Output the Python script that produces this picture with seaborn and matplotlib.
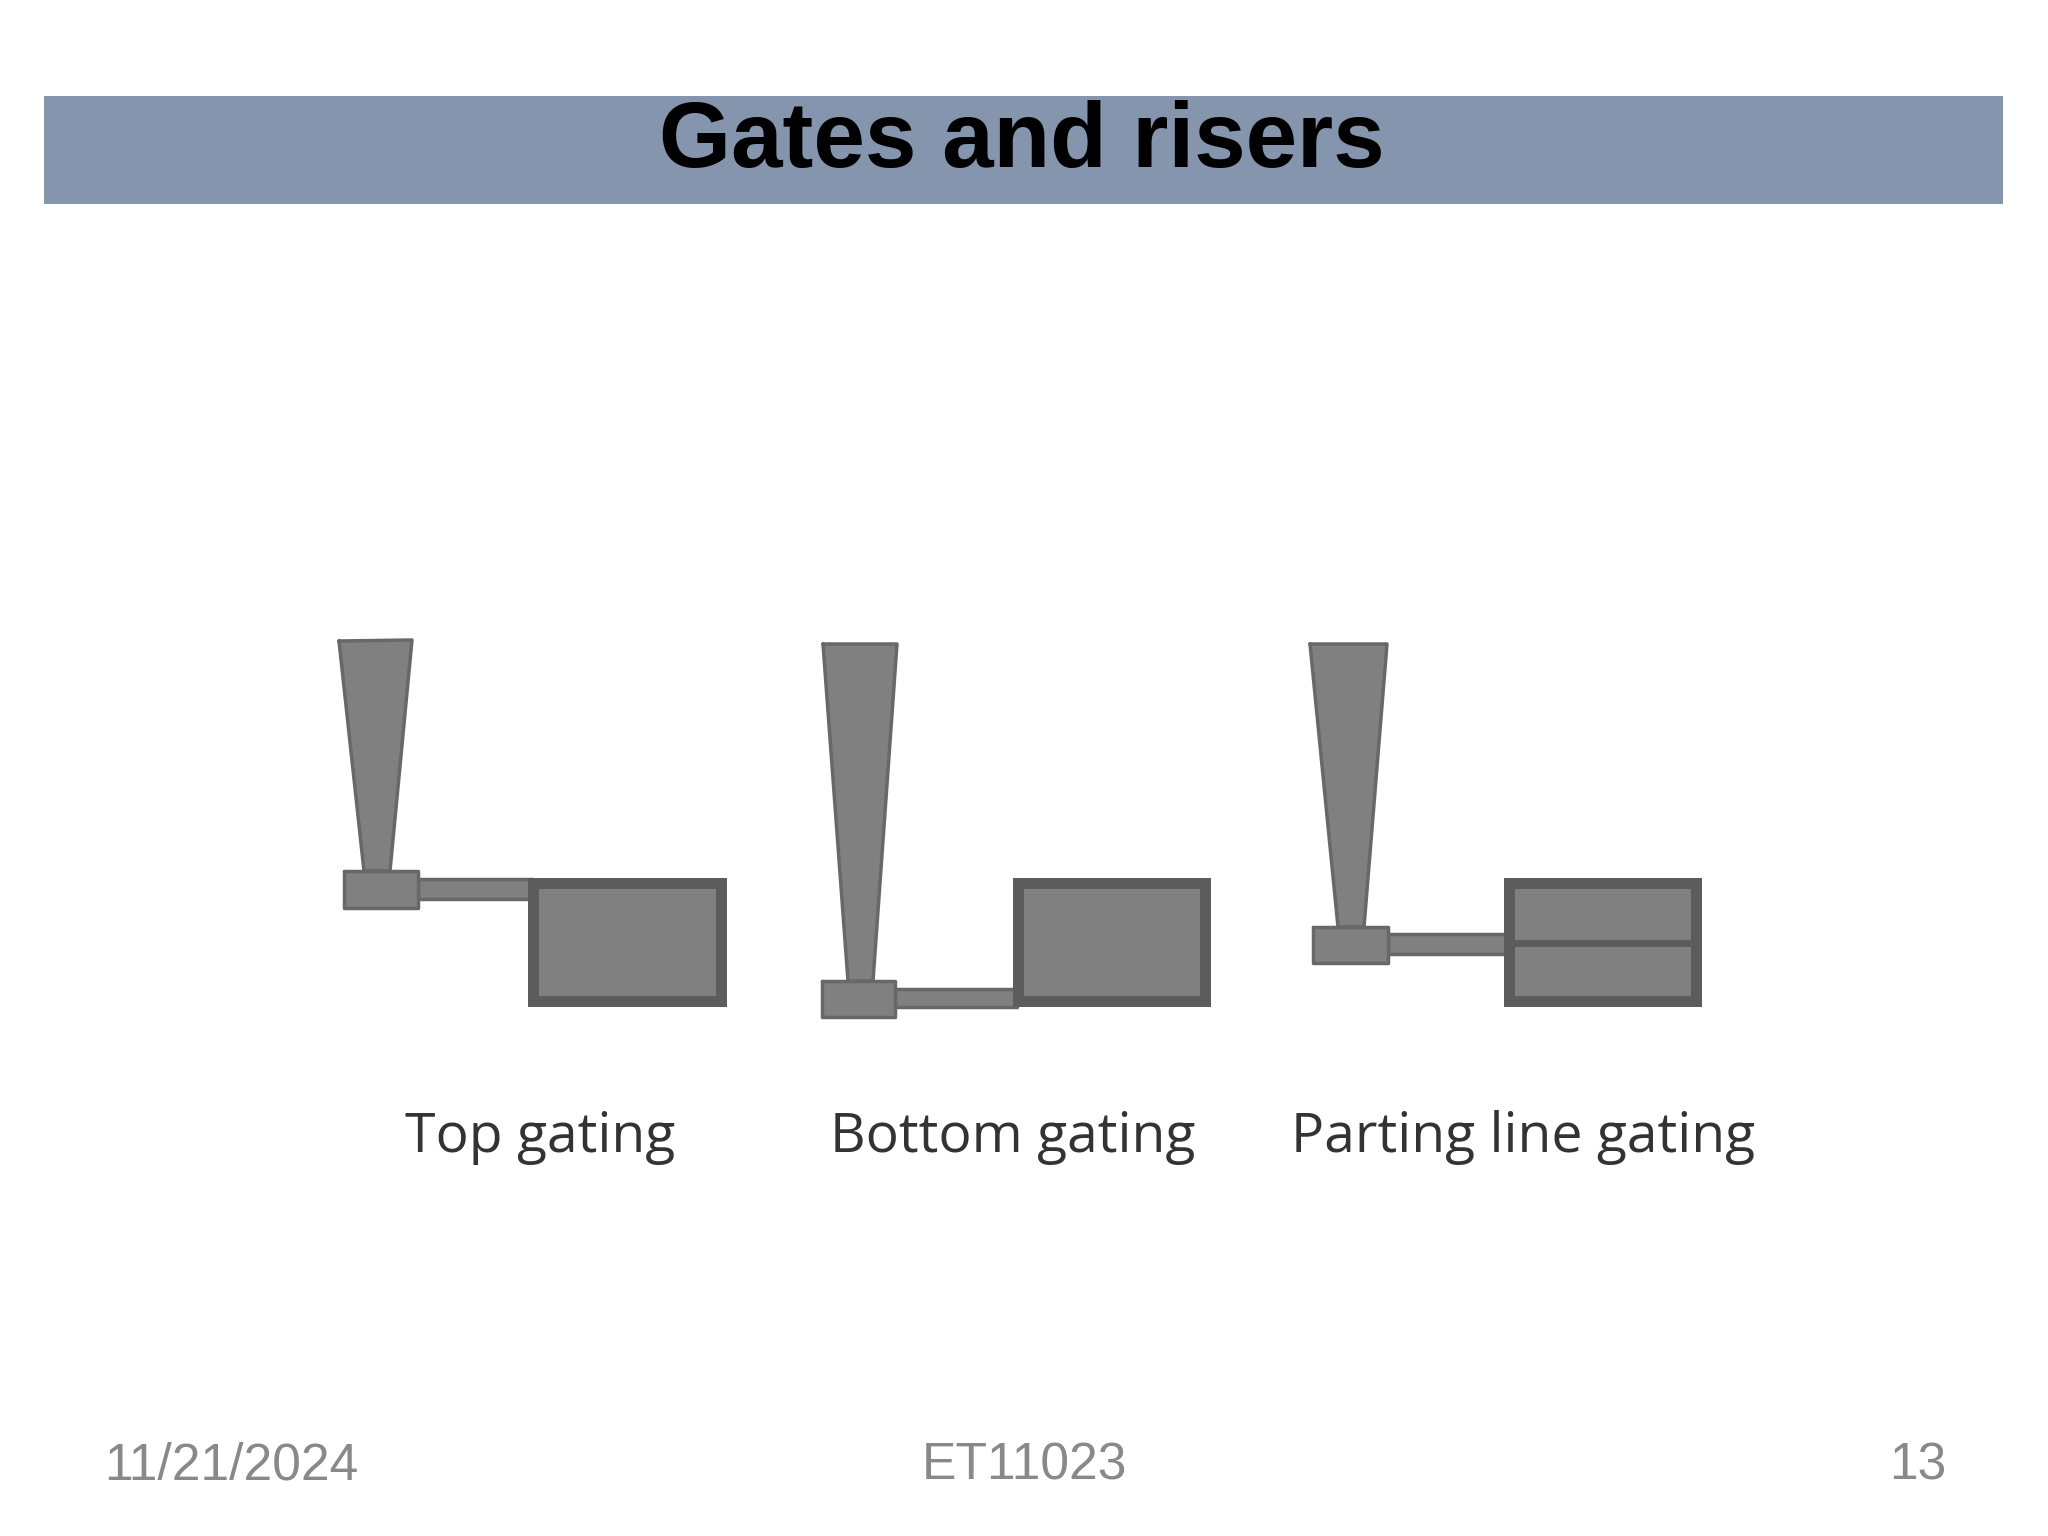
import numpy as np
import seaborn as sns
import matplotlib.pyplot as plt

# slide geometry, in image pixels
banner_x = [44, 2003]
banner_y = [96, 204]

# per diagram: top gating, bottom gating, parting line gating
labels = ['Top gating', 'Bottom gating', 'Parting line gating']
label_x = [540, 1013, 1523]

sprue_x = [[339, 412, 390, 364], [823, 897, 873, 848], [1310, 1387, 1364, 1338]]
sprue_y = [[641, 640, 871, 871], [644, 644, 981, 981], [644, 644, 927, 927]]

basin_x = [[344, 418], [822, 895], [1313, 1388]]
basin_y = [[871, 908], [981, 1017], [927, 963]]

runner_x = [[418, 533], [895, 1017], [1388, 1508]]
runner_y = [[879, 899], [989, 1007], [934, 954]]

casting_x = [[528, 727], [1013, 1211], [1504, 1702]]
casting_y = [[878, 1007], [878, 1007], [878, 1007]]

parting_y = [940, 947]
parting_x = [1504, 1702]

footer = ['11/21/2024', 'ET11023', '13']
footer_x = [104, 1024, 1918]

FILL = '#808080'
EDGE = '#686868'
DARK = '#5c5c5c'
BORDER = 11

sns.set_theme(style='white')
plt.rcParams['font.family'] = ['Liberation Sans', 'DejaVu Sans']

fig, ax = plt.subplots(figsize=(20.48, 15.36), dpi=100)
fig.subplots_adjust(left=0, right=1, bottom=0, top=1)
ax.set_xlim(0, 2048)
ax.set_ylim(1536, 0)
ax.set_xticks([])
ax.set_yticks([])
sns.despine(ax=ax, left=True, bottom=True)


def outlined(xs, ys, zorder=2):
    ax.fill(xs, ys, color=FILL, lw=0, zorder=zorder)
    sns.lineplot(x=xs + xs[:1], y=ys + ys[:1], sort=False, estimator=None,
                 color=EDGE, lw=2.5, ax=ax, zorder=zorder)


def box(xr, yr, zorder=2):
    outlined([xr[0], xr[1], xr[1], xr[0]], [yr[0], yr[0], yr[1], yr[1]], zorder)


ax.fill_between(banner_x, banner_y[0], banner_y[1], color='#8595ae', lw=0)
ax.text(1022, 167, 'Gates and risers', ha='center', va='baseline',
        fontsize=66.7, fontweight='bold', color='black')

for i in range(3):
    box(runner_x[i], runner_y[i], zorder=2)
    outlined(sprue_x[i], sprue_y[i], zorder=3)
    box(basin_x[i], basin_y[i], zorder=3)
    ax.fill_between(casting_x[i], casting_y[i][0], casting_y[i][1], color=DARK, lw=0, zorder=4)
    ax.fill_between([casting_x[i][0] + BORDER, casting_x[i][1] - BORDER],
                    casting_y[i][0] + BORDER, casting_y[i][1] - BORDER,
                    color=FILL, lw=0, zorder=5)
    ax.text(label_x[i], 1152, labels[i], ha='center', va='baseline', fontsize=39.8,
            family=['Open Sans', 'DejaVu Sans'], color='#333333', zorder=6)

# the parting line through the last casting
ax.fill_between(parting_x, parting_y[0], parting_y[1], color=DARK, lw=0, zorder=6)

for x, s, ha in zip(footer_x, footer, ['left', 'center', 'center']):
    ax.text(x, 1479, s, ha=ha, va='baseline', fontsize=37.2, color='#898989')

fig.savefig('out.png', dpi=100)
